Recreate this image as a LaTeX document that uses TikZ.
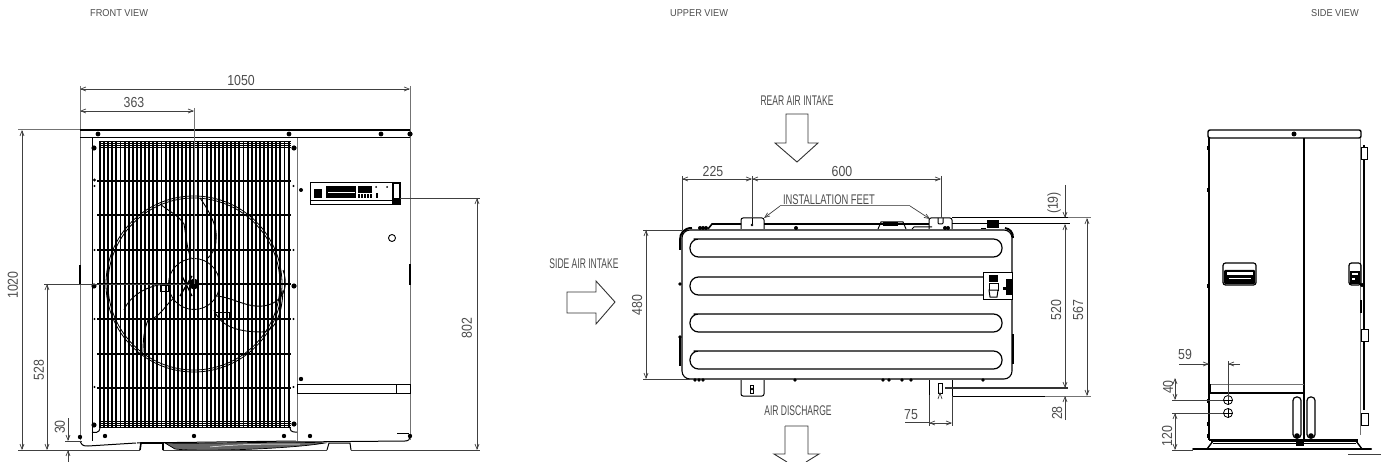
\documentclass[tikz,border=0pt]{standalone}
\usepackage{fontspec}
\setmainfont{Liberation Sans}
\newfontfamily\digitfont[FakeStretch=0.85]{Liberation Sans}
\newfontfamily\capsfont[FakeStretch=0.61]{Liberation Sans}
\newfontfamily\feetfont[FakeStretch=0.67]{Liberation Sans}
\newfontfamily\titlefont[FakeStretch=0.92]{Liberation Sans}
\usetikzlibrary{arrows.meta}
\definecolor{txt}{gray}{0.3}
\definecolor{dimc}{gray}{0.25}
\tikzset{
  dimline/.style={draw=dimc,line width=0.7pt,{Straight Barb[length=5pt,width=4pt]}-{Straight Barb[length=5pt,width=4pt]}},
  endarrow/.style={draw=dimc,line width=0.7pt,-{Straight Barb[length=5pt,width=4pt]}},
  ext/.style={draw=dimc,line width=0.7pt},
  extg/.style={draw=black!55,line width=1pt},
  lbl/.style={text=txt,font=\digitfont\fontsize{14.5}{14.5}\selectfont,inner sep=0pt},
  capslbl/.style={text=txt,font=\capsfont\fontsize{14}{14}\selectfont,inner sep=0pt},
  feetlbl/.style={text=txt,font=\feetfont\fontsize{14}{14}\selectfont,inner sep=0pt},
  title/.style={text=txt,font=\titlefont\fontsize{10}{10}\selectfont,inner sep=0pt},
  body/.style={draw=black,line width=1pt},
  thick body/.style={draw=black,line width=1.6pt},
  outarrow/.style={draw=black!80,line width=0.9pt,fill=white},
  blade/.style={draw=black,line width=0.9pt},
}
\begin{document}
\begin{tikzpicture}[x=1pt,y=-1pt]
\useasboundingbox (0,0) rectangle (1386,462);
% titles
\node[title,anchor=west] (t1) at (90,13) {FRONT VIEW};
\node[title,anchor=west] (t2) at (670,13) {UPPER VIEW};
\node[title,anchor=west] (t3) at (1311,13) {SIDE VIEW};

%% FRONT VIEW
% fins
\foreach \x in {100,104.1,...,291}{\draw[black,line width=1.9pt] (\x,141)--(\x,427);}
\foreach \y in {141,143,145,147}{\draw[black,line width=0.8pt] (99,\y)--(291,\y);}
\foreach \y in {421.5,423.5,425.5,427}{\draw[black,line width=0.8pt] (99,\y)--(291,\y);}
\foreach \y in {181,215,250,284,319,354,388}{\draw[black,line width=1.5pt] (97,\y)--(291,\y);}
% body
\draw[extg] (80,86)--(80,440);
\draw[extg] (410,86)--(410,440);
\draw[thick body] (80,130)--(410,130);
\draw[body] (80,138)--(410,138);
\draw[extg] (18,130)--(80,130);
\draw[body] (92,138)--(92,441);
\draw[extg] (297,138)--(297,441);
\draw[body] (80,441) .. controls (82,446) and (84,446) .. (88,446) -- (136,443);
\draw[body] (296,442)--(405,441) .. controls (409,441) and (410,439) .. (410,436);
\draw[body] (397,433)--(409,433);
\draw[body] (92,432) .. controls (94,433) and (100,433) .. (100,428);
\draw[body] (290,428) .. controls (290,433) and (296,432) .. (297,432);
\draw[body] (137,443)--(296,441);
% bar lower right
\draw[body] (297,384) rectangle (410,393);
\draw[body] (396,384)--(396,393);
% control box
\draw[body] (310,183) rectangle (400,205);
\draw[body] (310,201)--(400,201);
\fill[black] (326,186) rectangle (356,198);
\fill[black] (358,186) rectangle (372,193);
\fill[black] (358,194) rectangle (372,198);
\fill[black] (314,189) rectangle (322,198);
\fill[black] (376,193) rectangle (378,198);
\fill[black] (376,187) circle (1);
\fill[black] (387,187) circle (1);
\draw[white,line width=0.6pt] (328,192)--(355,192);
\foreach \x in {360,363,...,370}{\draw[white,line width=0.5pt] (\x,194)--(\x,198);}
\fill[black] (392,183) rectangle (400,205);
\fill[white] (394,184) rectangle (399,198);
\draw[black,line width=0.9pt] (392,238) circle (3.5);
% fan
\draw[black,line width=0.8pt] (194,284) circle (88);
\draw[black,line width=0.8pt] (194,284) circle (86);
\draw[black,line width=0.8pt] (194,284) circle (25.5);
\fill[black] (194,284) circle (5.5);
\draw[blade] (160,204) .. controls (170,212) and (178,215) .. (184,224) .. controls (186,235) and (187,250) .. (191,258);
\draw[blade] (200,198) .. controls (210,212) and (218,228) .. (216,240) .. controls (216,248) and (212,254) .. (208,258);
\draw[blade] (168,284) .. controls (150,284) and (130,295) .. (124,310);
\draw[blade] (174,298) .. controls (165,305) and (160,318) .. (148,320) .. controls (144,330) and (143,340) .. (143,352);
\draw[blade] (217,296) .. controls (235,298) and (250,310) .. (268,305) .. controls (280,302) and (290,290) .. (283,270);
\draw[blade] (214,310) .. controls (220,325) and (235,332) .. (262,332) .. controls (272,332) and (282,320) .. (283,290);
\draw[black,line width=1pt] (215,312) rectangle (229,318);
\draw[black,line width=1pt] (160,285) rectangle (168,291);
\draw[black,line width=1.3pt] (180,296)--(192,276) (182,276)--(192,296);
% feet and fan bottom
\draw[thick body] (140,450)--(141,443)--(163,443)--(163,450);
\draw[body] (327,450)--(329,443)--(350,443)--(351,450);
\draw[black,line width=0.7pt,fill=black!60] (165,443) .. controls (200,444) and (290,441) .. (325,443) .. controls (290,449) and (200,452) .. (175,449) -- cycle;
\draw[white,line width=0.5pt] (210,447) .. controls (240,444) and (270,444) .. (300,444);
% bolts
\foreach \p/\r in {98/2.4,289/2.4,381/2.4}{\fill[black] (\p,134) circle (\r);}
\fill[black] (410,134) circle (2.6);
\foreach \x/\y/\r in {94/148/2.6,94.5/180/1.6,94.5/186/1.2,94.5/250/1.2,94/286/2.6,94.5/319/1.2,94.5/387/1.2,94/425/2.6,80/437/2.2,105/436/2.2,194/436/2.2,284/436/2.2,310/436/2.2,294/148/2.6,293.5/186/1.2,293.5/250/1.2,301/190/2,294/286/2.6,293.5/319/1.2,293.5/387/1.2,294/424/2.6,301/379/2.2,410/436/2.2}{\fill[black] (\x,\y) circle (\r);}
\draw[black,line width=1.6pt] (80,265)--(80,285);
\draw[black,line width=1.6pt] (410,264)--(410,285);
% front dims
\draw[dimline] (80,89)--(410,89);
\node[lbl] (d1050) at (241,81) {1050};
\draw[dimline] (80,111)--(194,111);
\node[lbl] (d363) at (134,103) {363};
\draw[extg] (194,108)--(194,284);
\draw[dimline] (22,130)--(22,450);
\node[lbl,rotate=90] (d1020) at (13,285) {1020};
\draw[dimline] (47,284)--(47,450);
\draw[ext] (44,284)--(190,284);
\node[lbl,rotate=90] (d528) at (39,370) {528};
\draw[ext] (18,450)--(140,450) (163,450)--(327,450) (351,450)--(480,450);
\draw[endarrow] (68,418)--(68,441);
\draw[endarrow] (68,462)--(68,450);
\draw[ext] (65,441)--(82,441);
\node[lbl,rotate=90] (d30) at (60,427) {30};
\draw[ext] (400,198)--(480,198);
\draw[dimline] (477,198)--(477,450);
\node[lbl,rotate=90] (d802) at (467,328) {802};

%% UPPER VIEW
% slots
\foreach \a/\b in {239/257,314/332,351/369}{
  \draw[black,line width=1.2pt,rounded corners=8.5pt] (702,\a) -- (690,\a) -- (690,\b) -- (1002,\b) -- (1002,\a) -- cycle;
}
\draw[black,line width=1.2pt,rounded corners=8.5pt] (983,277) -- (690,277) -- (690,295) -- (983,295);
% body
\draw[black,line width=1.1pt,rounded corners=8pt] (682,379) rectangle (1012,230);
\draw[black,line width=2pt] (680,250)--(680,240) .. controls (680,233) and (684,228) .. (692,228);
\draw[black,line width=2pt] (1013,238) .. controls (1013,232) and (1010,229) .. (1005,228);
\draw[black,line width=1.8pt] (680,337)--(680,366);
\draw[black,line width=1.8pt] (1013,334)--(1013,364);
\fill[black] (680,284) circle (1.8);
\fill[black] (680,337) circle (1.8);
% rail
\draw[thick body] (708,229)--(712,224)--(741,224);
\draw[thick body] (764,224)--(929,224);
\foreach \x in {700,703,706,796,945,948}{\fill[black] (\x,228) circle (2);}
% feet top
\draw[body,rounded corners=2pt] (741,229)--(741,218)--(764,218)--(764,229);
\draw[body] (752,218)--(752,224);
\fill[black] (752,225) circle (1.4);
\draw[body,rounded corners=2pt] (929,229)--(929,218)--(952,218)--(952,229);
\draw[body,rounded corners=1pt] (938,218)--(938,224)--(943,224)--(943,218);
\fill[black] (883,222) rectangle (898,226);
\draw[body] (878,229)--(881,222)--(903,222)--(906,229);
\draw[body] (912,229)--(914,227)--(932,227);
\fill[black] (987,220) rectangle (999,228);
\fill[black] (981,228) rectangle (986,229);
% right box
\draw[body,fill=white] (983,273) rectangle (1012,299);
\fill[black] (989,275) rectangle (998,282);
\draw[body] (989,283) rectangle (998,290);
\draw[body,fill=white] (989,290)--(998,290)--(997,297)--(990,297)--cycle;
\fill[black] (1006,279) rectangle (1013,295);
\fill[black] (1003,287) rectangle (1007,290);
% foot bottom
\draw[body,rounded corners=2pt] (741,380)--(741,396)--(764,396)--(764,380);
\draw[body] (750.5,385) rectangle (753.5,393);
\fill[black] (752,389) circle (1.4);
\foreach \x in {695,699,703,795,883,889,902,911,983}{\fill[black] (\x,380) circle (1.8);}
% bottom foot right (with dim)
\draw[body] (929,380)--(929,395);
\draw[body] (952,380)--(952,396);
\draw[body] (938.5,383) rectangle (942,393);
\draw[ext] (938,399)--(940,393)--(942,399);
% upper dims
\draw[ext] (682,176)--(682,230);
\draw[ext] (752,176)--(752,218);
\draw[ext] (941,176)--(941,218);
\draw[dimline] (682,179)--(752,179);
\draw[dimline] (752,179)--(941,179);
\node[lbl] (d225) at (713,172) {225};
\node[lbl] (d600) at (842,172) {600};
\node[feetlbl] (dfeet) at (829,200) {INSTALLATION FEET};
\draw[extg] (780,206)--(910,206);
\draw[endarrow] (780,206)--(764,218);
\draw[endarrow] (910,206)--(930,219);
\draw[dimline] (646,230)--(646,379);
\draw[ext] (643,230)--(682,230);
\draw[ext] (643,379)--(690,379);
\node[lbl,rotate=90] (d480) at (637,305) {480};
% right dims
\draw[body] (952,218)--(1068,218);
\draw[extg] (1068,218)--(1091,218);
\draw[body] (952,224)--(1070,224);
\draw[endarrow] (1065,185)--(1065,218);
\draw[dimline] (1065,224)--(1065,388);
\node[lbl,rotate=90] (d19) at (1054,203) {(19)};
\node[lbl,rotate=90] (d520) at (1056,310) {520};
\draw[dimline] (1087,218)--(1087,396);
\node[lbl,rotate=90] (d567) at (1078,310) {567};
\draw[black!80,line width=1.2pt] (945,388)--(1068,388);
\draw[body] (952,396)--(1045,396);
\draw[extg] (1045,396)--(1091,396);
\draw[endarrow] (1065,420)--(1065,396);
\node[lbl,rotate=90] (d28) at (1057,413) {28};
\draw[ext] (929,395)--(929,426);
\draw[ext] (952,396)--(952,426);
\draw[dimline] (929,423)--(952,423);
\draw[ext] (905,422)--(929,422);
\node[lbl] (d75) at (911,415) {75};
% air arrows
\node[capslbl] (rear) at (797,101) {REAR AIR INTAKE};
\draw[outarrow] (786,114)--(808,114)--(808,143)--(818,143)--(797,162)--(775,143)--(786,143)--cycle;
\node[capslbl] (side) at (584,264) {SIDE AIR INTAKE};
\draw[outarrow] (567,292)--(596,292)--(596,281)--(615,302)--(596,324)--(596,313)--(567,313)--cycle;
\node[capslbl] (disch) at (798,411) {AIR DISCHARGE};
\draw[outarrow] (785,426)--(808,426)--(808,454)--(819,454)--(806,462);
\draw[outarrow] (785,426)--(785,454)--(774,454)--(787,462);

%% SIDE VIEW
\draw[black,line width=1.4pt,rounded corners=2pt] (1208,138)--(1208,130)--(1361,130)--(1361,138)--cycle;
\fill[black] (1294,134) circle (2.5);
\draw[black,line width=1.1pt] (1209,138)--(1209,440);
\draw[black,line width=1.1pt] (1304,138)--(1304,440);
\draw[extg] (1360,138)--(1360,435);
\draw[black,line width=1.1pt] (1364,145)--(1364,410);
\draw[black,line width=1.6pt] (1361,300)--(1361,313);
\foreach \y in {148,190,286,401,424,436}{\draw[black,line width=1.8pt] (1208,\y-2)--(1208,\y+2);}
\draw[black,line width=1.1pt] (1209,440)--(1358,440);
% handles
\draw[black,line width=1.2pt,rounded corners=2.5pt] (1223,263) rectangle (1256,285);
\fill[black,rounded corners=1pt] (1224,270) rectangle (1255,284);
\fill[white] (1227,272) rectangle (1253,275);
\fill[white] (1229,278) rectangle (1251,279.5);
\draw[black,line width=1.2pt,rounded corners=2.5pt] (1349,285)--(1349,263)--(1361,263)--(1361,285)--cycle;
\fill[black] (1350,271) rectangle (1360,284);
\fill[white] (1352,273) rectangle (1358,275);
\fill[white] (1352,278) rectangle (1355,280);
% hinges
\draw[body,fill=white] (1361,148) rectangle (1367,160);
\draw[body,fill=white] (1361,329) rectangle (1368,341);
\draw[body,fill=white] (1361,413) rectangle (1368,425);
\fill[black] (1362,285) circle (2);
% bar
\draw[extg] (1210,384)--(1304,384);
\draw[black,line width=1.1pt] (1210,393)--(1304,393);
\draw[black,line width=1pt] (1210,384)--(1210,393);
% slots
\foreach \x in {1293,1307}{
  \draw[black,line width=1.2pt,rounded corners=3.5pt] (\x,397) rectangle (\x+8,438);
  \fill[black] (\x+4,436) circle (2.8);
}
% holes
\draw[black,line width=0.8pt] (1228,400) circle (4.5);
\draw[black,line width=0.8pt] (1228,413) circle (4.5);
\draw[black,line width=0.5pt] (1223,400)--(1233,400) (1228,395)--(1228,405);
\draw[black,line width=0.5pt] (1223,413)--(1233,413) (1228,408)--(1228,418);
% base
\draw[black,line width=2pt,line cap=round] (1193,449)--(1371,449);
\draw[black,line width=0.9pt] (1211,441)--(1358,441);
\draw[black,line width=0.9pt] (1213,443)--(1356,443);
\draw[black,line width=1.4pt] (1213,441)--(1207,449);
\draw[black,line width=1.4pt] (1356,441)--(1362,449);
\fill[black] (1296,442) rectangle (1304,446);
\draw[ext] (1348,454)--(1381,454);
% side dims
\draw[endarrow] (1179,364)--(1209,364);
\draw[endarrow] (1240,364)--(1228,364);
\draw[ext] (1228,361)--(1228,400);
\node[lbl] (d59) at (1185,355) {59};
\draw[dimline] (1175,378)--(1175,400);
\draw[dimline] (1175,413)--(1175,450);
\draw[ext] (1172,400)--(1223,400);
\draw[ext] (1172,413)--(1223,413);
\draw[ext] (1172,450)--(1193,450);
\node[lbl,rotate=90] (d40) at (1168,387) {40};
\node[lbl,rotate=90] (d120) at (1167,436) {120};
\end{tikzpicture}
\end{document}
